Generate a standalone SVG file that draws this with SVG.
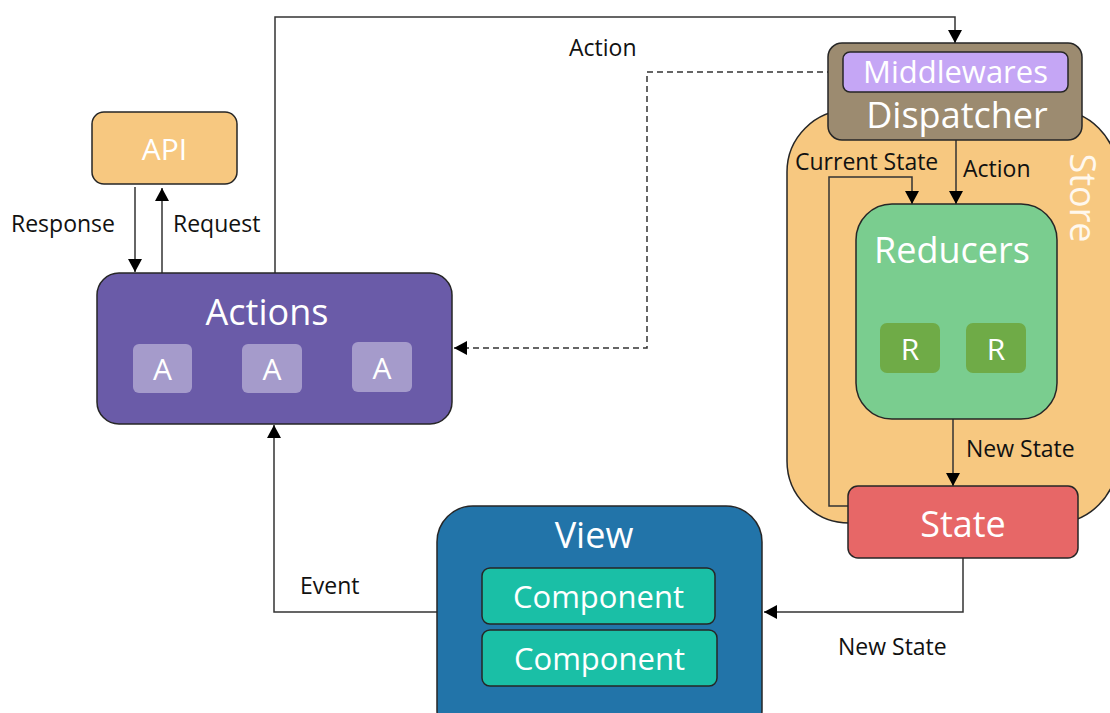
<svg xmlns="http://www.w3.org/2000/svg" width="1110" height="713" viewBox="0 0 1110 713">
<defs>
<marker id="arr" markerUnits="userSpaceOnUse" markerWidth="14" markerHeight="14" refX="13" refY="7" orient="auto">
<path d="M0,0 L13,7 L0,14 z" fill="#000"/>
</marker>
<style>
.box{stroke:#262626;stroke-width:1.5}
.lbl{font-family:"Open Sans","Noto Sans",sans-serif;font-size:23px;fill:#111}
.big{font-family:"Open Sans","Noto Sans",sans-serif;font-size:36px;fill:#fff;text-anchor:middle}
.mid{font-family:"Open Sans","Noto Sans",sans-serif;font-size:30px;fill:#fff;text-anchor:middle}
.ln{fill:none;stroke:#333;stroke-width:1.5}
.dash{stroke-dasharray:6 4}
</style>
</defs>
<rect width="1110" height="713" fill="#fff"/>

<g id="store">
<rect class="box" x="787" y="110" width="330" height="413" rx="62" fill="#F7C880"/>
<text class="big" transform="translate(1083,198) rotate(90)" y="13" style="fill:#FFF8EE">Store</text>
</g>

<g id="connectors">
<path class="ln" d="M275,273 V17 H955 V43" marker-end="url(#arr)"/>
<path class="ln dash" d="M843,72 H647 V348 H454" marker-end="url(#arr)"/>
<path class="ln" d="M135,187 V272" marker-end="url(#arr)"/>
<path class="ln" d="M162,273 V188" marker-end="url(#arr)"/>
<path class="ln" d="M956,140 V204" marker-end="url(#arr)"/>
<path class="ln" d="M848,506 H829 V177 H912 V204" marker-end="url(#arr)"/>
<path class="ln" d="M953,419 V486" marker-end="url(#arr)"/>
<path class="ln" d="M963,558 V612 H764" marker-end="url(#arr)"/>
<path class="ln" d="M437,612 H274 V425" marker-end="url(#arr)"/>
</g>

<g id="labels">
<text class="lbl" x="569" y="56">Action</text>
<text class="lbl" x="11" y="232">Response</text>
<text class="lbl" x="173" y="232">Request</text>
<text class="lbl" x="795" y="170">Current State</text>
<text class="lbl" x="963" y="177">Action</text>
<text class="lbl" x="966" y="457">New State</text>
<text class="lbl" x="300" y="594">Event</text>
<text class="lbl" x="838" y="655">New State</text>
</g>

<g id="api">
<rect class="box" x="92" y="112" width="145" height="72" rx="12" fill="#F7C880"/>
<text class="mid" x="164.5" y="160">API</text>
</g>

<g id="actions">
<rect class="box" x="97" y="273" width="355" height="151" rx="22" fill="#6A5BA8"/>
<text class="big" x="267" y="325">Actions</text>
<rect x="133" y="344" width="59" height="49" rx="6" fill="#A59BCB"/>
<rect x="242" y="344" width="60" height="49" rx="6" fill="#A59BCB"/>
<rect x="352" y="342" width="60" height="50" rx="6" fill="#A59BCB"/>
<text class="mid" x="162.5" y="380">A</text>
<text class="mid" x="272" y="380">A</text>
<text class="mid" x="382" y="379">A</text>
</g>

<g id="dispatcher">
<rect class="box" x="828" y="43" width="254" height="97" rx="14" fill="#9C8B70"/>
<rect class="box" x="843" y="52" width="225" height="40" rx="7" fill="#C5A6F5"/>
<text class="mid" x="955.5" y="83" style="font-size:31px">Middlewares</text>
<text class="big" x="957" y="128">Dispatcher</text>
</g>

<g id="reducers">
<rect class="box" x="856" y="204" width="201" height="215" rx="36" fill="#7ACD8F"/>
<text class="big" x="952" y="263">Reducers</text>
<rect x="880" y="323" width="60" height="50" rx="7" fill="#6FAB47"/>
<rect x="966" y="323" width="60" height="50" rx="7" fill="#6FAB47"/>
<text class="mid" x="910" y="360">R</text>
<text class="mid" x="996" y="360">R</text>
</g>

<g id="state">
<rect class="box" x="848" y="486" width="230" height="72" rx="10" fill="#E76767"/>
<text class="big" x="963" y="537">State</text>
</g>

<g id="view">
<rect class="box" x="437" y="506" width="325" height="240" rx="36" fill="#2274A9"/>
<text class="big" x="594" y="548">View</text>
<rect class="box" x="482" y="568" width="233" height="56" rx="8" fill="#1ABFA6"/>
<rect class="box" x="482" y="630" width="235" height="56" rx="8" fill="#1ABFA6"/>
<text class="mid" x="598.5" y="608" style="font-size:31px">Component</text>
<text class="mid" x="599.5" y="670" style="font-size:31px">Component</text>
</g>
</svg>
